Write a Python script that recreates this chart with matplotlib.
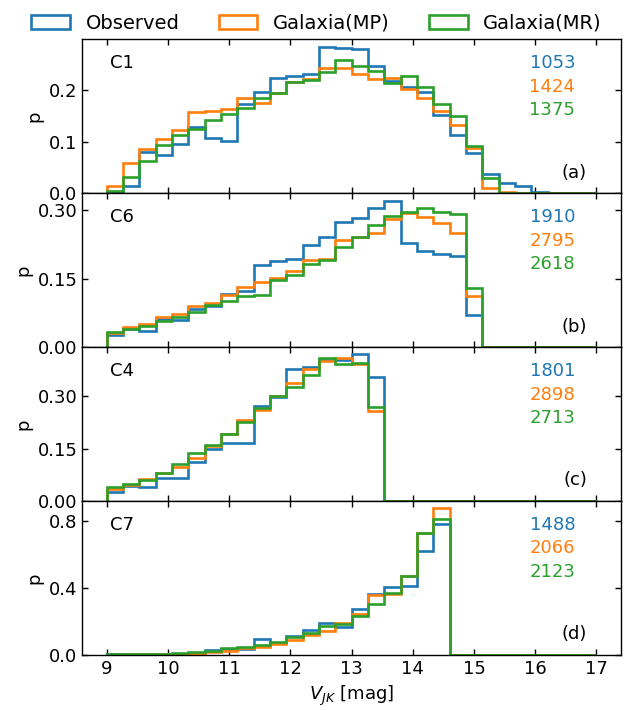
import numpy as np
import matplotlib
matplotlib.use("Agg")
import matplotlib.pyplot as plt

# 30 equal-width bins in V_JK between 9 and 17 mag
bin_lo, bin_hi, n_bins = 9.0, 17.0, 30
edges = np.linspace(bin_lo, bin_hi, n_bins + 1)
centers = 0.5 * (edges[:-1] + edges[1:])

series_names = ["Observed", "Galaxia(MP)", "Galaxia(MR)"]
series_colors = ["#1f77b4", "#ff7f0e", "#2ca02c"]

# Normalised histograms (p per bin), one list per series and panel
c1_obs = [0.003, 0.014, 0.080, 0.075, 0.096, 0.128, 0.108, 0.101, 0.172, 0.197,
          0.224, 0.228, 0.231, 0.284, 0.281, 0.280, 0.247, 0.218, 0.206, 0.197,
          0.151, 0.113, 0.078, 0.038, 0.020, 0.014, 0.003, 0.0, 0.0, 0.0]
c1_mp = [0.014, 0.059, 0.085, 0.105, 0.122, 0.157, 0.160, 0.163, 0.184, 0.174,
         0.195, 0.216, 0.221, 0.242, 0.242, 0.232, 0.221, 0.224, 0.202, 0.184,
         0.160, 0.133, 0.087, 0.010, 0.002, 0.0, 0.0, 0.0, 0.0, 0.0]
c1_mr = [0.004, 0.031, 0.062, 0.093, 0.113, 0.124, 0.141, 0.153, 0.165, 0.184,
         0.194, 0.215, 0.220, 0.234, 0.258, 0.246, 0.237, 0.214, 0.228, 0.205,
         0.172, 0.149, 0.091, 0.030, 0.001, 0.0, 0.0, 0.0, 0.0, 0.0]

c6_obs = [0.026, 0.039, 0.035, 0.061, 0.059, 0.084, 0.091, 0.117, 0.124, 0.179,
          0.188, 0.194, 0.223, 0.242, 0.275, 0.283, 0.305, 0.321, 0.229, 0.210,
          0.205, 0.199, 0.070, 0.0, 0.0, 0.0, 0.0, 0.0, 0.0, 0.0]
c6_mp = [0.030, 0.044, 0.051, 0.067, 0.072, 0.090, 0.097, 0.114, 0.131, 0.143,
         0.152, 0.166, 0.190, 0.192, 0.234, 0.241, 0.251, 0.280, 0.293, 0.285,
         0.272, 0.251, 0.112, 0.0, 0.0, 0.0, 0.0, 0.0, 0.0, 0.0]
c6_mr = [0.034, 0.039, 0.046, 0.057, 0.065, 0.078, 0.092, 0.102, 0.113, 0.115,
         0.148, 0.159, 0.183, 0.190, 0.219, 0.241, 0.267, 0.287, 0.297, 0.304,
         0.297, 0.291, 0.130, 0.0, 0.0, 0.0, 0.0, 0.0, 0.0, 0.0]

c4_obs = [0.027, 0.043, 0.041, 0.065, 0.067, 0.113, 0.150, 0.167, 0.167, 0.273,
          0.297, 0.378, 0.383, 0.404, 0.404, 0.419, 0.355, 0.0, 0.0, 0.0,
          0.0, 0.0, 0.0, 0.0, 0.0, 0.0, 0.0, 0.0, 0.0, 0.0]
c4_mp = [0.034, 0.047, 0.064, 0.079, 0.097, 0.124, 0.157, 0.192, 0.231, 0.260,
         0.300, 0.338, 0.378, 0.400, 0.410, 0.391, 0.257, 0.0, 0.0, 0.0,
         0.0, 0.0, 0.0, 0.0, 0.0, 0.0, 0.0, 0.0, 0.0, 0.0]
c4_mr = [0.040, 0.050, 0.060, 0.081, 0.105, 0.136, 0.160, 0.191, 0.227, 0.267,
         0.300, 0.327, 0.359, 0.408, 0.393, 0.395, 0.270, 0.0, 0.0, 0.0,
         0.0, 0.0, 0.0, 0.0, 0.0, 0.0, 0.0, 0.0, 0.0, 0.0]

c7_obs = [0.003, 0.004, 0.005, 0.005, 0.005, 0.012, 0.030, 0.034, 0.036, 0.094,
          0.070, 0.114, 0.150, 0.194, 0.165, 0.274, 0.364, 0.406, 0.414, 0.620,
          0.784, 0.0, 0.0, 0.0, 0.0, 0.0, 0.0, 0.0, 0.0, 0.0]
c7_mp = [0.002, 0.003, 0.004, 0.005, 0.007, 0.008, 0.020, 0.026, 0.040, 0.050,
         0.066, 0.090, 0.120, 0.144, 0.190, 0.246, 0.360, 0.366, 0.470, 0.730,
         0.876, 0.0, 0.0, 0.0, 0.0, 0.0, 0.0, 0.0, 0.0, 0.0]
c7_mr = [0.003, 0.004, 0.005, 0.007, 0.012, 0.018, 0.026, 0.040, 0.050, 0.060,
         0.076, 0.106, 0.134, 0.174, 0.185, 0.234, 0.304, 0.370, 0.470, 0.726,
         0.810, 0.0, 0.0, 0.0, 0.0, 0.0, 0.0, 0.0, 0.0, 0.0]

panel_names = ["C1", "C6", "C4", "C7"]
panel_tags = ["(a)", "(b)", "(c)", "(d)"]
panel_counts = [[1053, 1424, 1375], [1910, 2795, 2618],
                [1801, 2898, 2713], [1488, 2066, 2123]]
panel_data = [[c1_obs, c1_mp, c1_mr], [c6_obs, c6_mp, c6_mr],
              [c4_obs, c4_mp, c4_mr], [c7_obs, c7_mp, c7_mr]]
panel_yticks = [[0.0, 0.1, 0.2], [0.0, 0.15, 0.30],
                [0.0, 0.15, 0.30], [0.0, 0.4, 0.8]]
panel_yfmt = ["{:.1f}", "{:.2f}", "{:.2f}", "{:.1f}"]
xticks = list(range(9, 18))

fs = 13
fig, axes = plt.subplots(4, 1, figsize=(6.33, 7.1), dpi=100, sharex=True)
fig.subplots_adjust(left=0.130, right=0.981, top=0.9446, bottom=0.0775, hspace=0)

handles = []
for i, ax in enumerate(axes):
    for j, vals in enumerate(panel_data[i]):
        _, _, patches = ax.hist(centers, bins=edges, weights=vals, histtype="step",
                                color=series_colors[j], linewidth=1.9,
                                label=series_names[j])
        if i == 0:
            handles.append(patches[0])
    ax.set_yticks(panel_yticks[i])
    ax.set_yticklabels([panel_yfmt[i].format(t) for t in panel_yticks[i]])
    ax.set_ylabel("p", fontsize=fs)
    ax.tick_params(direction="in", top=True, right=True, labelsize=fs,
                   length=4, width=1.0)
    for sp in ax.spines.values():
        sp.set_linewidth(1.0)
    ax.text(0.051, 0.844, panel_names[i], transform=ax.transAxes,
            fontsize=fs, ha="left", va="center")
    ax.text(0.937, 0.134, panel_tags[i], transform=ax.transAxes,
            fontsize=fs, ha="right", va="center")
    for j, n in enumerate(panel_counts[i]):
        ax.text(0.915, 0.844 - 0.152 * j, str(n), transform=ax.transAxes,
                fontsize=fs, ha="right", va="center", color=series_colors[j])

axes[-1].set_xticks(xticks)
axes[-1].set_xticklabels([str(t) for t in xticks])
axes[-1].set_xlabel(r"$V_{JK}$ [mag]", fontsize=fs)

fig.legend(handles, series_names, loc="upper center", bbox_to_anchor=(0.5, 1.005),
           ncol=3, frameon=False, fontsize=14, columnspacing=2.0)

fig.savefig("out.png", dpi=100)
